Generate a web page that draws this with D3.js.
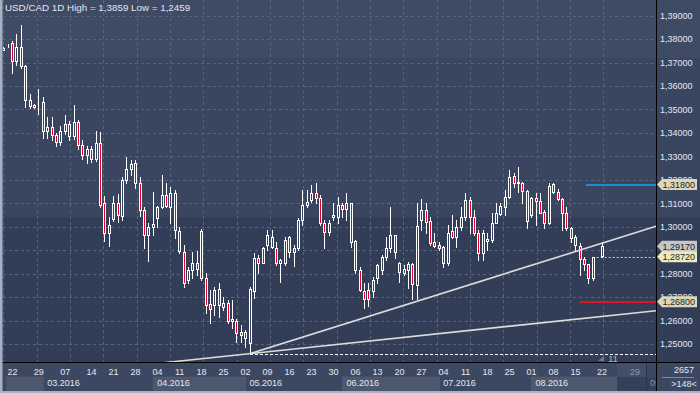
<!DOCTYPE html>
<html><head><meta charset="utf-8">
<script src="https://cdn.jsdelivr.net/npm/d3@7"></script>
<style>
body{margin:0;background:#3b4661;}
svg{display:block;font-family:"Liberation Sans",Arial,sans-serif;}
</style>
</head><body>
<svg id="c" width="700" height="393"></svg>
<script>
// ---- DATA (USD/CAD daily candles) ----
const opens = [1.3755,1.3766,1.3782,1.3708,1.3765,1.3686,1.3515,1.3520,1.3533,1.3533,
1.3410,1.3425,1.3391,1.3360,1.3410,1.3440,1.3385,1.3445,1.3350,1.3305,
1.3330,1.3290,1.3356,1.3100,1.2972,1.3032,1.3100,1.3046,1.3200,1.3245,
1.3270,1.3185,1.3072,1.2965,1.3001,1.3036,1.3086,1.3136,1.3086,1.3143,
1.2980,1.2894,1.2773,1.2817,1.2844,1.2980,1.2780,1.2671,1.2667,1.2733,
1.2657,1.2674,1.2597,1.2596,1.2540,1.2553,1.2505,1.2728,1.2865,1.2847,
1.2922,1.2915,1.2908,1.2844,1.2844,1.2958,1.2894,1.2908,1.3029,1.3093,
1.3114,1.3143,1.3121,1.3015,1.2979,1.3043,1.3043,1.3093,1.3076,1.3100,
1.2941,1.2816,1.2728,1.2730,1.2724,1.2780,1.2816,1.2870,1.2908,1.2965,
1.2844,1.2802,1.2816,1.2842,1.2752,1.3029,1.3072,1.3026,1.2934,1.2923,
1.2913,1.2845,1.2980,1.2958,1.2998,1.3043,1.3114,1.3043,1.2975,1.2887,
1.2940,1.2944,1.3018,1.3054,1.3086,1.3128,1.3216,1.3185,1.3188,1.3154,
1.3050,1.3121,1.3111,1.3065,1.3015,1.3182,1.3150,1.3117,1.3057,1.2994,
1.2955,1.2918,1.2863,1.2840,1.2780,1.2872,1.2876];
const highs = [1.3765,1.3779,1.3791,1.3822,1.3859,1.3690,1.3566,1.3525,1.3587,1.3553,
1.3469,1.3469,1.3400,1.3430,1.3475,1.3450,1.3520,1.3455,1.3370,1.3345,
1.3345,1.3410,1.3405,1.3129,1.3043,1.3129,1.3140,1.3214,1.3296,1.3285,
1.3285,1.3214,1.3086,1.3015,1.3150,1.3089,1.3221,1.3185,1.3171,1.3157,
1.3001,1.2922,1.2830,1.2894,1.2897,1.2990,1.2801,1.2731,1.2745,1.2759,
1.2702,1.2688,1.2688,1.2605,1.2581,1.2560,1.2745,1.2887,1.2880,1.2915,
1.2986,1.2986,1.2936,1.2861,1.2958,1.2961,1.2922,1.3036,1.3157,1.3157,
1.3178,1.3185,1.3136,1.3029,1.3029,1.3100,1.3128,1.3100,1.3143,1.3103,
1.2944,1.2830,1.2760,1.2758,1.2785,1.2840,1.2880,1.2958,1.3086,1.2965,
1.2851,1.2837,1.2851,1.2844,1.3100,1.3117,1.3100,1.3043,1.2972,1.2937,
1.2916,1.3008,1.3050,1.3029,1.3086,1.3143,1.3128,1.3072,1.2986,1.2986,
1.2972,1.3057,1.3100,1.3100,1.3157,1.3242,1.3228,1.3256,1.3192,1.3157,
1.3128,1.3143,1.3143,1.3072,1.3188,1.3188,1.3160,1.3121,1.3086,1.3001,
1.2965,1.2930,1.2870,1.2840,1.2873,1.2872,1.2936];
const lows = [1.3752,1.3765,1.3657,1.3690,1.3676,1.3512,1.3506,1.3505,1.3480,1.3378,
1.3378,1.3370,1.3345,1.3350,1.3395,1.3370,1.3375,1.3330,1.3290,1.3270,
1.3275,1.3280,1.3086,1.2941,1.2918,1.3026,1.3022,1.3029,1.3185,1.3221,
1.3164,1.3046,1.2908,1.2852,1.2965,1.3001,1.3079,1.3083,1.3015,1.2951,
1.2887,1.2745,1.2759,1.2780,1.2795,1.2773,1.2631,1.2589,1.2624,1.2617,
1.2645,1.2591,1.2567,1.2510,1.2510,1.2489,1.2459,1.2695,1.2801,1.2844,
1.2901,1.2908,1.2837,1.2766,1.2837,1.2872,1.2833,1.2901,1.3008,1.3086,
1.3107,1.3100,1.3008,1.2908,1.2965,1.3029,1.3015,1.3043,1.3029,1.2915,
1.2802,1.2724,1.2655,1.2660,1.2700,1.2759,1.2800,1.2858,1.2894,1.2866,
1.2766,1.2795,1.2738,1.2691,1.2691,1.2987,1.2972,1.2923,1.2915,1.2901,
1.2827,1.2837,1.2951,1.2915,1.2987,1.3029,1.2972,1.2965,1.2859,1.2859,
1.2901,1.2937,1.3015,1.3050,1.3050,1.3121,1.3171,1.3150,1.3100,1.2994,
1.3043,1.3008,1.3057,1.2994,1.3012,1.3143,1.3114,1.2986,1.2986,1.2937,
1.2901,1.2795,1.2816,1.2762,1.2773,1.2872,1.2870];
const closes = [1.3762,1.3768,1.3708,1.3768,1.3686,1.3540,1.3540,1.3510,1.3534,1.3410,
1.3425,1.3391,1.3360,1.3410,1.3440,1.3385,1.3445,1.3350,1.3305,1.3330,
1.3290,1.3356,1.3093,1.2972,1.3008,1.3100,1.3050,1.3200,1.3245,1.3268,
1.3185,1.3072,1.2965,1.3001,1.3012,1.3086,1.3136,1.3089,1.3143,1.2987,
1.2897,1.2759,1.2816,1.2845,1.2818,1.2780,1.2667,1.2648,1.2731,1.2667,
1.2674,1.2600,1.2605,1.2549,1.2553,1.2525,1.2735,1.2865,1.2847,1.2908,
1.2965,1.2958,1.2847,1.2858,1.2944,1.2894,1.2908,1.3029,1.3093,1.3107,
1.3143,1.3121,1.3015,1.2979,1.3015,1.3050,1.3093,1.3076,1.3100,1.2937,
1.2816,1.2731,1.2690,1.2694,1.2773,1.2837,1.2870,1.2908,1.2965,1.2894,
1.2805,1.2819,1.2842,1.2756,1.3003,1.3072,1.3022,1.2930,1.2920,1.2908,
1.2845,1.2975,1.2958,1.2998,1.3043,1.3114,1.3043,1.2972,1.2887,1.2972,
1.2947,1.3018,1.3057,1.3089,1.3128,1.3214,1.3185,1.3192,1.3154,1.3026,
1.3124,1.3111,1.3060,1.3015,1.3174,1.3150,1.3117,1.3057,1.2994,1.2951,
1.2923,1.2861,1.2841,1.2780,1.2870,1.2872,1.2917];

const weekLabels = ["22","29","07","14","21","28","04","11","18","25","02","09","16","23","30",
"06","13","20","27","04","11","18","25","01","08","15","22","29"];
const weekIndex = [2,8,14,20,25,30,35,40,45,50,55,60,65,70,75,80,85,90,95,100,105,110,115,120,125,130,136,143.5];
const monthLabels = ["","03.2016","04.2016","05.2016","06.2016","07.2016","08.2016","09.2016"];
const monthStart  = [0.7,9,34,55,77,99,120,146];
const futureStart = 139.4;
const yTicks = [1.25,1.26,1.27,1.28,1.29,1.30,1.31,1.32,1.33,1.34,1.35,1.36,1.37,1.38,1.39];
const lowPrice = 1.2459, lowIndex = 56;
const trendEnds = [1.3002, 1.2642];       // prices of the two trend lines at the right edge
const levelPrices = [1.3180, 1.2680];      // blue and red levels
const levelStart = [132.4, 131];
const lastPrice = 1.2917, openPrice = 1.2872;
const title = "USD/CAD 1D High = 1,3859 Low = 1,2459";

// ---- LAYOUT ----
const svg = d3.select("#c");
const W = 700, H = 393, axisX = 657, axisY = 363;
const x = d3.scaleLinear().domain([0, 136]).range([3.6, 3.6 + 136 * 4.4]);
const y = d3.scaleLinear().domain([1.25, 1.39]).range([344.0, 15.7]);
const fmt = v => d3.format(".5f")(v).replace(".", ",");
const edgeIndex = x.invert(axisX - 1);

// background bands
[[0,58,"#3f4a65"],[58,217,"#3a4560"],[217,axisY,"#323e58"]].forEach(b=>{
  svg.append("rect").attr("x",0).attr("y",b[0]).attr("width",W).attr("height",b[1]-b[0]).attr("fill",b[2]);
});

const defs = svg.append("defs");
defs.append("clipPath").attr("id","plot").append("rect")
  .attr("x",3).attr("y",0).attr("width",axisX-3).attr("height",axisY);
defs.append("clipPath").attr("id","baxis").append("rect")
  .attr("x",3).attr("y",axisY).attr("width",axisX-3).attr("height",H-axisY);

const plot = svg.append("g").attr("clip-path","url(#plot)");

// grid
plot.selectAll("line.hg").data(yTicks).join("line")
  .attr("x1",3).attr("x2",axisX).attr("y1",d=>Math.round(y(d))+0.5).attr("y2",d=>Math.round(y(d))+0.5)
  .attr("stroke","#58647d").attr("stroke-dasharray","3,3");
plot.selectAll("line.vg").data(d3.range(603.3, 3, -33.33)).join("line")
  .attr("x1",d=>Math.round(d)+0.5).attr("x2",d=>Math.round(d)+0.5).attr("y1",0).attr("y2",axisY)
  .attr("stroke","#58647d").attr("stroke-dasharray","3,3");

// candles
const idx = d3.range(opens.length);
const snap = v => Math.round(v) + 0.5;
plot.selectAll("line.wick").data(idx).join("line")
  .attr("x1",i=>Math.floor(x(i))+0.5).attr("x2",i=>Math.floor(x(i))+0.5)
  .attr("y1",i=>Math.round(y(highs[i]))).attr("y2",i=>Math.round(y(lows[i]))+1)
  .attr("stroke","#ffffff");
plot.selectAll("rect.body").data(idx).join("rect")
  .attr("x",i=>Math.floor(x(i))-0.5).attr("width",2)
  .attr("y",i=>snap(y(Math.max(opens[i],closes[i]))))
  .attr("height",i=>Math.max(0, Math.round(y(Math.min(opens[i],closes[i]))) - Math.round(y(Math.max(opens[i],closes[i])))))
  .attr("fill",i=>closes[i] < opens[i] ? "#e3002b" : "#364260")
  .attr("stroke","#ffffff").attr("stroke-width",1);

// level lines
plot.append("line").attr("x1",x(lowIndex)).attr("x2",axisX).attr("y1",snap(y(lowPrice))).attr("y2",snap(y(lowPrice)))
  .attr("stroke","#ffffff").attr("stroke-dasharray","3,2");
const lvlColors = ["#1c8fd6","#e0141e"];
levelPrices.forEach((p,k)=>{
  plot.append("line").attr("x1",x(levelStart[k])).attr("x2",axisX).attr("y1",Math.round(y(p))).attr("y2",Math.round(y(p)))
    .attr("stroke",lvlColors[k]).attr("stroke-width",2);
});
plot.append("line").attr("x1",x(135)-1).attr("x2",axisX).attr("y1",snap(y(openPrice))).attr("y2",snap(y(openPrice)))
  .attr("stroke","#e6e640").attr("stroke-dasharray","2,2");

// trend lines from the low
trendEnds.forEach((p,k)=>{
  const slope = (p - lowPrice) / (edgeIndex - lowIndex);
  const i0 = k === 0 ? lowIndex : 0;
  plot.append("line")
    .attr("x1",x(i0)).attr("y1",y(lowPrice + slope*(i0-lowIndex)))
    .attr("x2",x(edgeIndex)).attr("y2",y(p))
    .attr("stroke","#dcdcdc").attr("stroke-width",1.6);
});

// marker "11"
svg.append("path").attr("d",`M598,361 L604,356 L604,361 Z`).attr("fill","#6d7891");
svg.append("text").attr("x",613).attr("y",361.5).attr("text-anchor","middle")
  .attr("font-size",9).attr("fill","#b4bccb").text("11");

// title
svg.append("text").attr("x",5).attr("y",11.2).attr("font-size",9.8).attr("fill","#e2e7f0").text(title);

// right axis ticks
svg.selectAll("text.yt").data(yTicks).join("text")
  .attr("x",660).attr("y",d=>y(d)+3.3).attr("font-size",9).attr("fill","#e2e8f4").text(fmt);

// right axis value tags
const tags = [[1.318,"#dcd7ba"],[lastPrice,"#c6c6c6"],[openPrice,"#ecebc0"],[1.268,"#dcd7ba"]];
tags.forEach(t=>{
  const yy = y(t[0]);
  svg.append("path").attr("d",`M${axisX},${yy} L${axisX+5},${yy-5.5} L697,${yy-5.5} L697,${yy+5.5} L${axisX+5},${yy+5.5} Z`)
    .attr("fill",t[1]);
  svg.append("text").attr("x",662.5).attr("y",yy+3.3).attr("font-size",9).attr("fill","#1e1e1e").text(fmt(t[0]));
});

// bottom axis
svg.append("rect").attr("x",0).attr("y",axisY).attr("width",W).attr("height",H-axisY).attr("fill","#3c4761");
const bax = svg.append("g").attr("clip-path","url(#baxis)");
monthStart.forEach((s,k)=>{
  const e = k < monthStart.length-1 ? monthStart[k+1] : 160;
  if (k % 2 === 0 && k < 7) {
    bax.append("rect").attr("x",x(s)).attr("y",377).attr("width",x(Math.min(e,futureStart))-x(s)).attr("height",13.5)
      .attr("fill","#4d586e").attr("stroke","#57627a").attr("stroke-width",0.5);
  }
});
bax.append("rect").attr("x",x(futureStart)).attr("y",axisY+0.5).attr("width",x(monthStart[7])-x(futureStart)).attr("height",14)
  .attr("fill","#434e67");
bax.append("rect").attr("x",x(futureStart)).attr("y",377).attr("width",axisX-x(futureStart)).attr("height",13.5)
  .attr("fill","#343f58");
bax.append("line").attr("x1",Math.round(x(monthStart[7]))+0.5).attr("x2",Math.round(x(monthStart[7]))+0.5)
  .attr("y1",axisY).attr("y2",H).attr("stroke","#2a3347");
bax.selectAll("text.wk").data(weekLabels).join("text")
  .attr("x",(d,k)=>x(weekIndex[k])).attr("y",374.7).attr("text-anchor","middle")
  .attr("font-size",9).attr("fill",(d,k)=>weekIndex[k] > futureStart ? "#8793a8" : "#e2e7f0").text(d=>d);
bax.selectAll("text.mo").data(monthLabels).join("text")
  .attr("x",(d,k)=>x(monthStart[k])+4).attr("y",385.8)
  .attr("font-size",9).attr("fill",(d,k)=>k===7 ? "#8793a8" : "#e2e7f0").text(d=>d);

// corner box
svg.append("text").attr("x",684).attr("y",373.3).attr("text-anchor","middle").attr("font-size",9).attr("fill","#e2e7f0").text("2657");
svg.append("line").attr("x1",662).attr("x2",694).attr("y1",377.5).attr("y2",377.5).attr("stroke","#7f8aa0");
svg.append("text").attr("x",684).attr("y",387.3).attr("text-anchor","middle").attr("font-size",9).attr("fill","#e2e7f0").text(">148<");

// frame lines
svg.append("line").attr("x1",0).attr("x2",W).attr("y1",axisY-0.5).attr("y2",axisY-0.5).attr("stroke","#000");
svg.append("line").attr("x1",axisX-0.5).attr("x2",axisX-0.5).attr("y1",0).attr("y2",H).attr("stroke","#000");
svg.append("rect").attr("x",0).attr("y",0).attr("width",2.5).attr("height",H).attr("fill","#a6b1c4");
svg.append("rect").attr("x",0).attr("y",H-2).attr("width",W).attr("height",2).attr("fill","#a6b1c4");
</script>
</body></html>
